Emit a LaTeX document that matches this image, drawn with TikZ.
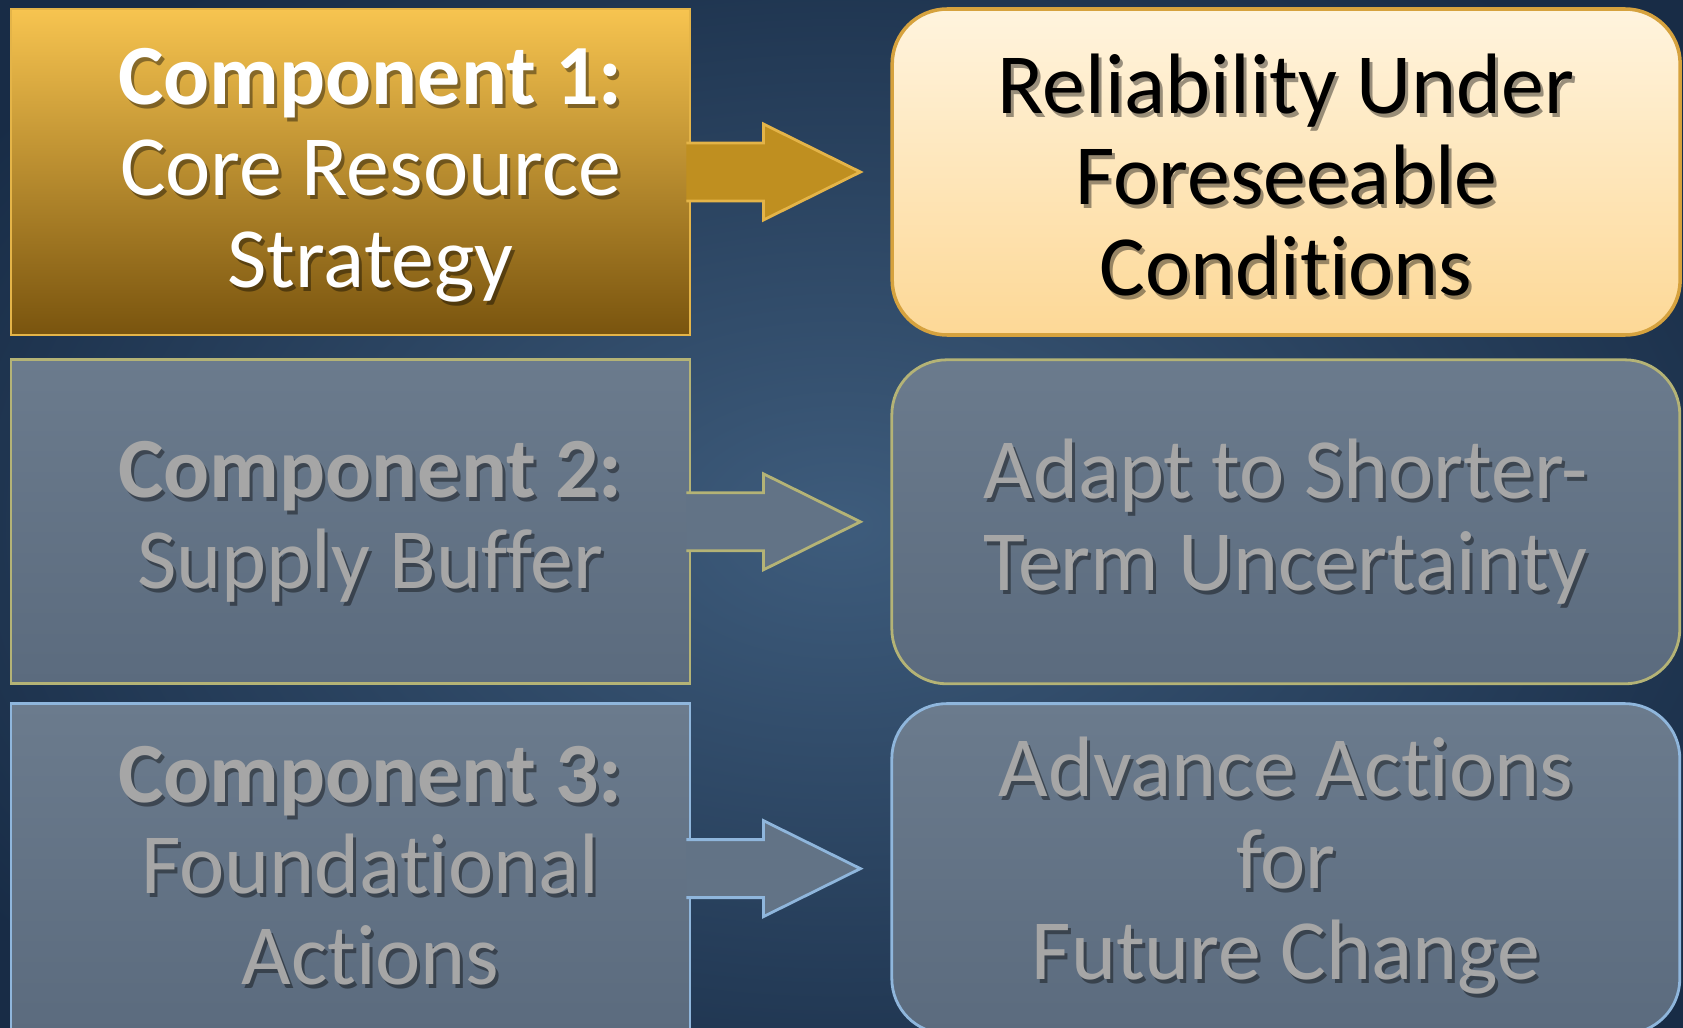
\documentclass[tikz,border=0pt]{standalone}
\usepackage{fontspec}
\setmainfont{Carlito}[Ligatures=NoCommon]
\usetikzlibrary{calc,positioning}

\definecolor{bgdark}{HTML}{182C46}
\definecolor{bglight}{HTML}{3E5C7C}
\definecolor{goldtop}{HTML}{F7C450}
\definecolor{goldbot}{HTML}{79540E}
\definecolor{goldline}{HTML}{E4B448}
\definecolor{goldarrow}{HTML}{BF8F20}
\definecolor{creamtop}{HTML}{FFF4DE}
\definecolor{creambot}{HTML}{FDD896}
\definecolor{creamline}{HTML}{D6A23E}
\definecolor{greytop}{HTML}{6B7B8D}
\definecolor{greybot}{HTML}{5B6B7E}
\definecolor{greyfill}{HTML}{627386}
\definecolor{oliveline}{HTML}{B4B376}
\definecolor{blueline}{HTML}{8FB6DC}
\definecolor{greytext}{HTML}{A6A6A6}

\tikzset{
  compbox/.style={draw, line width=0.8pt, minimum width=6.79cm, inner sep=0pt},
  goalbox/.style={draw, line width=0.8pt, rounded corners=0.55cm, minimum width=7.88cm, inner sep=0pt},
  bigtxt/.style={align=center, font=\fontsize{24.4}{26}\selectfont, inner sep=0pt},
}

% shadowed text: style, position, name, text
\def\shadowtext[#1]#2#3#4{\node[bigtxt, text=black, opacity=.4, xshift=0.3mm, yshift=-0.4mm] (#3s) at (#2) {#4};
  \node[bigtxt, #1] (#3) at (#2) {#4};}
% block arrow leaving a box
\def\blockarrow[#1](#2){\draw[#1] ($(#2)+(-0.05,0.29)$) -- ++(0.77,0) -- ++(0,0.19) -- ($(#2)+(1.69,0)$) -- ($(#2)+(0.72,-0.48)$) -- ++(0,0.19) -- ($(#2)+(-0.05,-0.29)$);}

\begin{document}
\begin{tikzpicture}
  \useasboundingbox (0,0) rectangle (16.83,-10.28);
  \clip (0,0) rectangle (16.83,-10.28);

  %%%%% background %%%%%
  \fill[bgdark] (0,0) rectangle (16.83,-10.28);
  \shade[inner color=bglight, outer color=bgdark] (-2,1.5) rectangle (18.8,-12);

  %%%%% left column %%%%%
  \node[compbox, draw=goldline, top color=goldtop, bottom color=goldbot, minimum height=3.26cm] (b1) at (3.505,-1.72) {};
  \node[compbox, draw=oliveline, top color=greytop, bottom color=greybot, minimum height=3.24cm, below=0.22 of b1] (b2) {};
  \node[compbox, draw=blueline, top color=greytop, bottom color=greybot, minimum height=3.30cm, below=0.17 of b2] (b3) {};

  %%%%% right column %%%%%
  \node[goalbox, draw=creamline, line width=1pt, top color=creamtop, bottom color=creambot, minimum height=3.26cm, right=1.99 of b1] (r1) {};
  \node[goalbox, draw=oliveline, top color=greytop, bottom color=greybot, minimum height=3.24cm, right=1.99 of b2] (r2) {};
  \node[goalbox, draw=blueline, top color=greytop, bottom color=greybot, minimum height=3.30cm, right=1.99 of b3] (r3) {};

  %%%%% arrows %%%%%
  \blockarrow[draw=goldline, fill=goldarrow, line width=0.8pt](b1.east)
  \blockarrow[draw=oliveline, fill=greyfill, line width=0.8pt](b2.east)
  \blockarrow[draw=blueline, fill=greyfill, line width=0.8pt](b3.east)

  %%%%% texts %%%%%
  \shadowtext[text=white]{$(b1.center)+(0.2,-0.03)$}{t1}{{\bfseries Component 1:}\\Core Resource\\Strategy}
  \shadowtext[text=greytext]{$(b2.center)+(0.2,0)$}{t2}{{\bfseries Component 2:}\\Supply Buffer}
  \shadowtext[text=greytext]{$(b3.center)+(0.2,0.03)$}{t3}{{\bfseries Component 3:}\\Foundational\\Actions}

  \shadowtext[text=black]{$(r1.center)+(0,-0.03)$}{u1}{Reliability Under\\Foreseeable\\Conditions}
  \shadowtext[text=greytext]{r2.center}{u2}{Adapt to Shorter-\\Term Uncertainty}
  \shadowtext[text=greytext]{$(r3.center)+(0,0.03)$}{u3}{Advance Actions\\for\\Future Change}
\end{tikzpicture}
\end{document}
